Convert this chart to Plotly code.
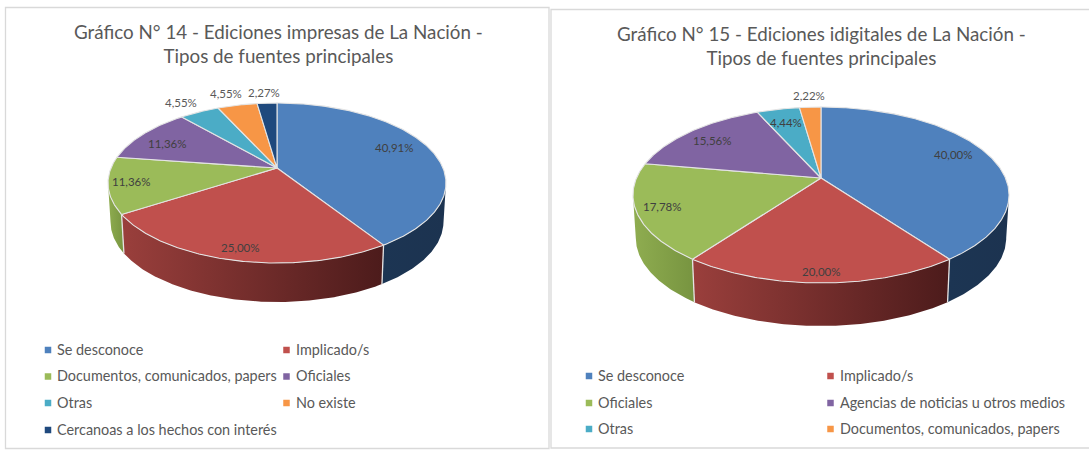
import math
import plotly.graph_objects as go

# ---- data ----
titles_14 = "Gráfico N° 14 - Ediciones impresas de La Nación -<br>Tipos de fuentes principales"
titles_15 = "Gráfico N° 15 - Ediciones idigitales de La Nación -<br>Tipos de fuentes principales"
categories_14 = ["Se desconoce", "Implicado/s", "Documentos, comunicados, papers", "Oficiales",
                 "Otras", "No existe", "Cercanoas a los hechos con interés"]
values_14 = [40.91, 25.00, 11.36, 11.36, 4.55, 4.55, 2.27]
categories_15 = ["Se desconoce", "Implicado/s", "Oficiales", "Agencias de noticias u otros medios",
                 "Otras", "Documentos, comunicados, papers"]
values_15 = [40.00, 20.00, 17.78, 15.56, 4.44, 2.22]

# ---- style ----
FONT = "Lato"
TOP_14 = ["#4F81BD", "#C0504D", "#9BBB59", "#8064A2", "#4BACC6", "#F79646", "#1F497D"]
TOP_15 = ["#4F81BD", "#C0504D", "#9BBB59", "#8064A2", "#4BACC6", "#F79646"]
WALL = {"#4F81BD": ("#1C3553", "#1C3350"), "#C0504D": ("#9A3F3C", "#4C1B1B"),
        "#9BBB59": ("#8FAD50", "#779440")}
SEAM = "#E4E4E4"

PIE_14 = dict(cx=277, cy=168, A=166, B=77.2, k=0.1875, depth=39)
PIE_15 = dict(cx=821, cy=178, A=184.5, B=84.7, k=0.193, depth=43)
# radial factor and vertical nudge of each data label
LABEL_14 = [(0.77, -4), (0.879, 0), (0.868, -1), (0.802, 3), (1.29, 4), (1.356, 6), (1.37, 8)]
LABEL_15 = [(0.788, -4), (0.906, 0), (0.866, -1), (0.823, 2), (0.788, 0), (1.13, -4)]


def proj(p, th, f=1.0, lower=False):
    u, v = math.sin(th) * f, math.cos(th) * f
    w = 1 + p["k"] * v
    x = p["A"] * u / w
    y = p["cy"] - p["B"] * v / w
    if lower:
        return p["cx"] + x * 0.985, y + p["depth"]
    return p["cx"] + x, y


def arc(p, a, b, lower=False, n=None):
    n = n or max(3, int(abs(b - a) / 0.01))
    pts = [proj(p, a + (b - a) * i / n, lower=lower) for i in range(n + 1)]
    return [q[0] for q in pts], [q[1] for q in pts]


fig = go.Figure()


def add_pie(p, values, colors, labels_cfg):
    total = sum(values)
    edges = [0.0]
    for val in values:
        edges.append(edges[-1] + val / total * 2 * math.pi)
    edges[-1] = 2 * math.pi
    vis_a = math.acos(-p["k"])
    vis_b = 2 * math.pi - vis_a
    # side walls
    for i, c in enumerate(colors):
        a, b = max(edges[i], vis_a), min(edges[i + 1], vis_b)
        if b <= a:
            continue
        xt, yt = arc(p, a, b)
        xb, yb = arc(p, b, a, lower=True)
        grad = WALL[c]
        fig.add_trace(go.Scatter(
            x=xt + xb + [xt[0]], y=yt + yb + [yt[0]], mode="lines", line=dict(width=0),
            fill="toself", fillgradient=dict(type="horizontal", colorscale=[[0, grad[0]], [1, grad[1]]]),
            hoverinfo="skip", showlegend=False))
    # seams between walls
    for e in edges[1:-1]:
        if vis_a < e < vis_b:
            x0, y0 = proj(p, e)
            x1, y1 = proj(p, e, lower=True)
            fig.add_trace(go.Scatter(x=[x0, x1], y=[y0, y1], mode="lines",
                                     line=dict(color=SEAM, width=1.3),
                                     hoverinfo="skip", showlegend=False))
    # top faces
    for i, c in enumerate(colors):
        xa, ya = arc(p, edges[i], edges[i + 1])
        fig.add_trace(go.Scatter(
            x=[p["cx"]] + xa + [p["cx"]], y=[p["cy"]] + ya + [p["cy"]], mode="lines",
            line=dict(color=SEAM, width=1.1), fill="toself", fillcolor=c,
            hoverinfo="skip", showlegend=False))
    # data labels
    for i, val in enumerate(values):
        mid = (edges[i] + edges[i + 1]) / 2
        f, dy = labels_cfg[i]
        x, y = proj(p, mid, f)
        fig.add_annotation(x=x, y=y + dy, text=f"{val:.2f}".replace(".", ",") + "%", showarrow=False,
                           font=dict(family=FONT, size=11.5, color="#595959" if f > 1 else "#404040"))


add_pie(PIE_14, values_14, TOP_14, LABEL_14)
add_pie(PIE_15, values_15, TOP_15, LABEL_15)


def add_legend(cats, colors, x_cols, y_rows):
    for i, (cat, c) in enumerate(zip(cats, colors)):
        x = x_cols[i % 2]
        y = y_rows[i // 2]
        fig.add_trace(go.Scatter(x=[x], y=[y], mode="markers",
                                 marker=dict(symbol="square", size=6.5, color=c),
                                 hoverinfo="skip", showlegend=False))
        fig.add_annotation(x=x + 7, y=y - 0.7, text=cat, showarrow=False, xanchor="left",
                           font=dict(family=FONT, size=14.4, color="#595959"))


add_legend(categories_14, TOP_14, [48, 286.5], [350, 376.5, 403, 430])
add_legend(categories_15, TOP_15, [589, 830.5], [376, 403, 429])

for text, x, y in [(titles_14, 278, 43.5), (titles_15, 821, 45)]:
    fig.add_annotation(x=x, y=y, text=text, showarrow=False, align="center",
                       font=dict(family=FONT, size=18.8, color="#595959"))

line = dict(color="#D9D9D9", width=1.3)
fig.add_shape(type="rect", x0=5.5, x1=549, y0=7.5, y1=448.5, line=line, layer="below")
fig.add_shape(type="rect", x0=551, x1=1095, y0=9.5, y1=448, line=line, layer="below")

fig.update_layout(
    width=1089, height=450, margin=dict(l=0, r=0, t=0, b=0), autosize=False,
    paper_bgcolor="white", plot_bgcolor="white", showlegend=False,
    xaxis=dict(range=[0, 1089], visible=False, fixedrange=True),
    yaxis=dict(range=[450, 0], visible=False, fixedrange=True),
)
fig.write_html("out.html", post_script="document.body.style.margin='0';window.dispatchEvent(new Event('resize'));",
               config=dict(displayModeBar=False))
